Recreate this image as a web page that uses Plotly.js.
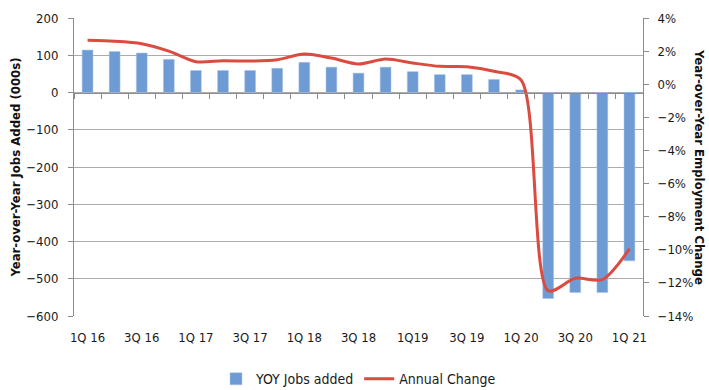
<!DOCTYPE html>
<html>
<head>
<meta charset="utf-8">
<script src="https://cdn.plot.ly/plotly-3.0.1.min.js"></script>
<style>html,body{margin:0;padding:0;background:#fff;}#chart{width:709px;height:390px;}</style>
</head>
<body>
<div id="chart"></div>
<script>
var quarters = ["1Q 16","2Q 16","3Q 16","4Q 16","1Q 17","2Q 17","3Q 17","4Q 17","1Q 18","2Q 18","3Q 18","4Q 18","1Q19","2Q 19","3Q 19","4Q 19","1Q 20","2Q 20","3Q 20","4Q 20","1Q 21"];
var shownLabels = ["1Q 16","3Q 16","1Q 17","3Q 17","1Q 18","3Q 18","1Q19","3Q 19","1Q 20","3Q 20","1Q 21"];
var jobsAdded = [114,110,106,89,59,59,59,65,81,68,52,68,56,48,48,35,7,-553,-537,-537,-452];
var annualChange = [2.65,2.6,2.45,2.0,1.36,1.42,1.4,1.48,1.82,1.58,1.22,1.52,1.28,1.08,1.06,0.78,0.25,-12.47,-11.72,-11.8,-9.95];

var FONT = "'DejaVu Sans Condensed', 'Liberation Sans Narrow', sans-serif";
function f(size, extra){ var o = {family:FONT, size:size, color:'#1a1a1a', stretch:'condensed'}; if(extra){for(var k in extra){o[k]=extra[k];}} return o; }

var traces = [
  {type:'bar', name:'YOY Jobs added', x:quarters, y:jobsAdded, xaxis:'x', yaxis:'y',
   marker:{color:'#6e9bd3', line:{color:'#a9c4e6', width:0.5}}},
  {type:'scatter', mode:'lines', name:'Annual Change', x:quarters, y:annualChange, xaxis:'x', yaxis:'y2',
   line:{color:'#db4b40', width:3, shape:'spline', smoothing:0.8}},
  {type:'scatter', x:[], y:[], xaxis:'x3', yaxis:'y', showlegend:false, hoverinfo:'skip'}
];

var layout = {
  width:709, height:390,
  margin:{l:74, r:66, t:18, b:74, autoexpand:false},
  paper_bgcolor:'#fff', plot_bgcolor:'#fff',
  font:f(13),
  bargap:0.6,
  showlegend:true,
  legend:{orientation:'h', x:0.5, xanchor:'center', y:-0.212, yanchor:'middle', font:f(14), tracegroupgap:0},
  xaxis:{type:'category', categoryorder:'array', categoryarray:quarters, tickmode:'array', tickvals:shownLabels,
    showgrid:false, zeroline:false, showline:false, ticks:'outside', ticklen:9, tickcolor:'rgba(0,0,0,0)',
    tickfont:f(13), fixedrange:true},
  xaxis3:{overlaying:'x', anchor:'free', position:0.75, range:[-0.5,20.5], tickmode:'linear', tick0:-0.5, dtick:1,
    showticklabels:false, ticks:'outside', ticklen:5, tickcolor:'#8c8c8c', showline:true, linecolor:'#8c8c8c', linewidth:1,
    showgrid:false, zeroline:false},
  yaxis:{range:[-600,200], dtick:100, showgrid:true, gridcolor:'#ababab', gridwidth:1, zeroline:false,
    showline:true, linecolor:'#8c8c8c', ticks:'outside', ticklen:5, tickcolor:'#8c8c8c', ticklabelstandoff:7,
    tickfont:f(13),
    title:{text:'<b>Year-over-Year Jobs Added (000s)</b>', font:f(13, {color:'#111'}), standoff:2}},
  yaxis2:{overlaying:'y', side:'right', range:[-14,4], dtick:2, ticksuffix:'%', showgrid:false, zeroline:false,
    showline:true, linecolor:'#8c8c8c', ticks:'outside', ticklen:5, tickcolor:'#8c8c8c', ticklabelstandoff:6,
    tickfont:f(13)},
  annotations:[{text:'<b>Year-over-Year Employment Change</b>', xref:'paper', yref:'paper', x:1.1, y:0.5,
    xanchor:'center', yanchor:'middle', textangle:90, showarrow:false, font:f(13, {color:'#111'})}]
};

Plotly.newPlot('chart', traces, layout, {displayModeBar:false, staticPlot:true});
</script>
</body>
</html>
